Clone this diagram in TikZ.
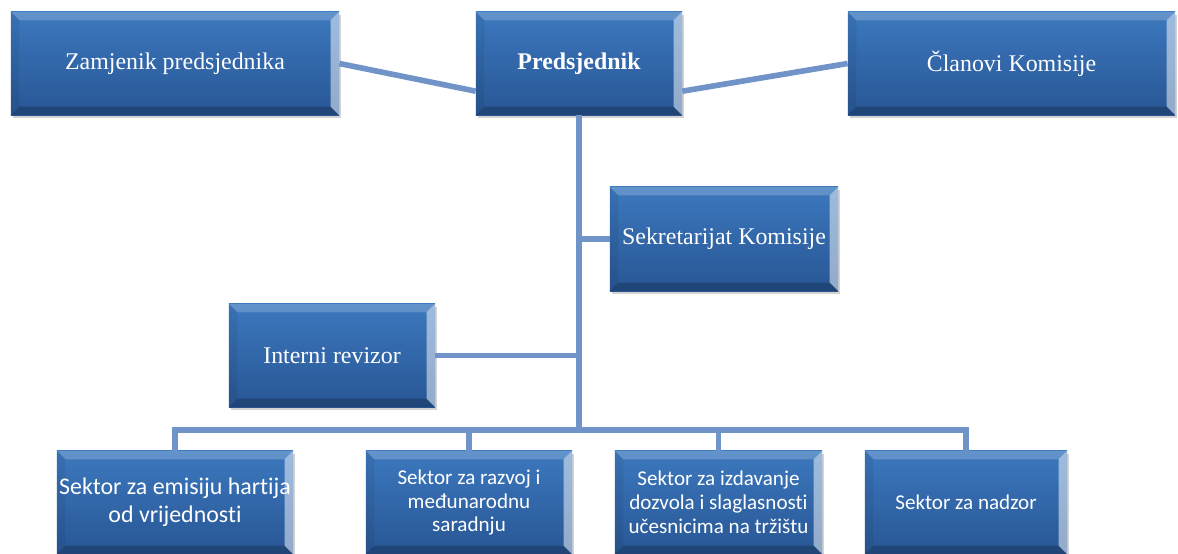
\documentclass[tikz,border=0pt]{standalone}
\usepackage{fontspec}
\setmainfont{Liberation Serif}
\newfontfamily\calfont[Ligatures=NoCommon]{Carlito}
\usetikzlibrary{shadows}

\definecolor{boxtop}{RGB}{60,120,190}
\definecolor{boxbot}{RGB}{40,86,148}
\definecolor{linkblue}{RGB}{112,148,200}

\tikzset{
	unit/.style={rectangle, inner sep=0pt, align=center, text=white,
		top color=boxtop, bottom color=boxbot,
		font=\fontsize{17}{20}\selectfont,
		minimum width=5.15cm, minimum height=2.58cm,
		drop shadow={shadow xshift=1.5pt, shadow yshift=-2pt, opacity=.35},
		path picture={
			% bevel: light top, bright right, dark bottom
			\fill[white, opacity=.2] (path picture bounding box.north west) -- (path picture bounding box.north east)
				-- ([xshift=-6pt,yshift=-6pt]path picture bounding box.north east) -- ([xshift=6pt,yshift=-6pt]path picture bounding box.north west) -- cycle;
			\fill[white, opacity=.5] (path picture bounding box.north east) -- (path picture bounding box.south east)
				-- ([xshift=-6pt,yshift=6pt]path picture bounding box.south east) -- ([xshift=-6pt,yshift=-6pt]path picture bounding box.north east) -- cycle;
			\fill[black, opacity=.2] (path picture bounding box.south west) -- (path picture bounding box.south east)
				-- ([xshift=-6pt,yshift=6pt]path picture bounding box.south east) -- ([xshift=6pt,yshift=6pt]path picture bounding box.south west) -- cycle;
			\fill[black, opacity=.06] (path picture bounding box.north west) -- (path picture bounding box.south west)
				-- ([xshift=6pt,yshift=6pt]path picture bounding box.south west) -- ([xshift=6pt,yshift=-6pt]path picture bounding box.north west) -- cycle;
		}},
	sector/.style={unit, font=\calfont\fontsize{15}{17}\selectfont},
	link/.style={draw=linkblue, line width=4pt}
}

\begin{document}
\begin{tikzpicture}[x=0.025cm, y=-0.025cm]
	\useasboundingbox (0,0) rectangle (1178,553);

	\node[unit, minimum width=8.2cm] (vice) at (175,63.5) {Zamjenik predsjednika};
	\node[unit, font=\bfseries\fontsize{17}{20}\selectfont] (pres) at (579,63.5) {Predsjednik};
	\node[unit, minimum width=8.18cm] (members) at (1011.5,63.5) {Članovi Komisije};
	\node[unit, minimum width=5.7cm, minimum height=2.6cm] (secretariat) at (724,239) {Sekretarijat Komisije};
	\node[unit] (auditor) at (332,355.5) {Interni revizor};

	\node[sector, minimum width=5.9cm, font=\calfont\fontsize{17}{20}\selectfont] (sec1) at (175,502.5) {Sektor za emisiju hartija\\od vrijednosti};
	\node[sector] (sec2) at (469,502.5) {Sektor za razvoj i\\međunarodnu\\saradnju};
	\node[sector, minimum width=5.18cm] (sec3) at (718.5,502.5) {Sektor za izdavanje\\dozvola i slaglasnosti\\učesnicima na tržištu};
	\node[sector, minimum width=5.05cm] (sec4) at (966,502.5) {Sektor za nadzor};

	\coordinate (hub) at (579,430);

	\draw[link] (vice.east) -- (pres.195);
	\draw[link] (pres.-15) -- (members.west);
	\draw[link] (pres.south) -- (hub);
	\draw[link] (secretariat.west) -- (pres.south |- secretariat.west);
	\draw[link] (auditor.east) -- (pres.south |- auditor.east);
	\foreach \s in {sec1,sec2,sec3,sec4}
		\draw[link] (hub) -| (\s.north);
\end{tikzpicture}
\end{document}
